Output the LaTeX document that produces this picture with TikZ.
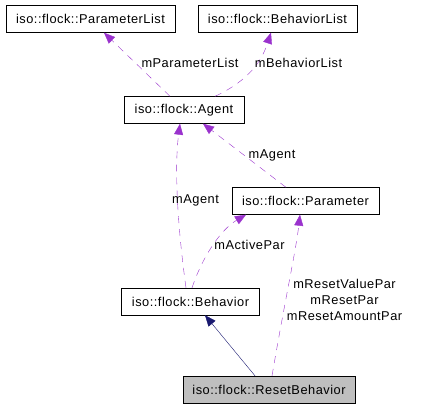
\documentclass[tikz,border=0pt]{standalone}
\usepackage{fontspec}
\setmainfont{Liberation Sans}[LetterSpace=4]
\usetikzlibrary{arrows.meta}
\definecolor{assoc}{HTML}{9A32CD}
\definecolor{inherit}{HTML}{191970}
\definecolor{focus}{HTML}{BFBFBF}

\begin{document}
\begin{tikzpicture}[x=1pt,y=-1pt,
        cls/.style={rectangle,draw=black,minimum height=27pt,inner xsep=6pt,inner ysep=0pt,font=\fontsize{12.8}{14}\selectfont},
        lbl/.style={font=\fontsize{12.8}{16}\selectfont,inner sep=0pt,align=center},
        uses/.style={assoc,dash pattern=on 7pt off 6pt,-{Triangle[length=11pt,width=9pt]}},
        isa/.style={inherit,-{Triangle[length=11pt,width=9pt]}}
        ]
        \useasboundingbox (0,0) rectangle (427,408);
        \node (plist) [cls,minimum width=169pt] at (90.5,19)  {iso::flock::ParameterList};
        \node (blist) [cls,minimum width=159pt] at (277.5,19) {iso::flock::BehaviorList};
        \node (agent) [cls,minimum width=120pt] at (184,110)  {iso::flock::Agent};
        \node (param) [cls,minimum width=147pt] at (305.5,201) {iso::flock::Parameter};
        \node (behav) [cls,minimum width=138pt] at (190.5,301.5) {iso::flock::Behavior};
        \node (reset) [cls,minimum width=172pt,fill=focus] at (269,389.5) {iso::flock::ResetBehavior};
        % associations
        \draw[uses] ([xshift=-14pt]agent.north) -- ([xshift=13.5pt]plist.south);
        \draw[uses] ([xshift=31pt]agent.north) .. controls (250,80) and (262,60) .. ([xshift=-6.5pt]blist.south);
        \draw[uses] ([xshift=-19.5pt]param.north) -- ([xshift=19pt]agent.south);
        \draw[uses] ([xshift=-4.5pt]behav.north) .. controls (178,230) and (174,170) .. ([xshift=-4pt]agent.south);
        \draw[uses] ([xshift=1.5pt]behav.north) .. controls (202,258) and (220,230) .. ([xshift=-59.5pt]param.south);
        \draw[uses] ([xshift=3pt]reset.north) .. controls (285,300) and (296,250) .. ([xshift=-5.5pt]param.south);
        \draw[isa] ([xshift=-14pt]reset.north) -- ([xshift=14.5pt]behav.south);
        % labels
        \node (l1) [lbl] at (190,63)    {mParameterList};
        \node (l2) [lbl] at (298.5,63)  {mBehaviorList};
        \node (l3) [lbl] at (272,155)   {mAgent};
        \node (l4) [lbl] at (195.5,200) {mAgent};
        \node (l5) [lbl] at (249.5,245) {mActivePar};
        \node (l6) [lbl] at (344.5,300) {mResetValuePar\\mResetPar\\mResetAmountPar};
\end{tikzpicture}
\end{document}
